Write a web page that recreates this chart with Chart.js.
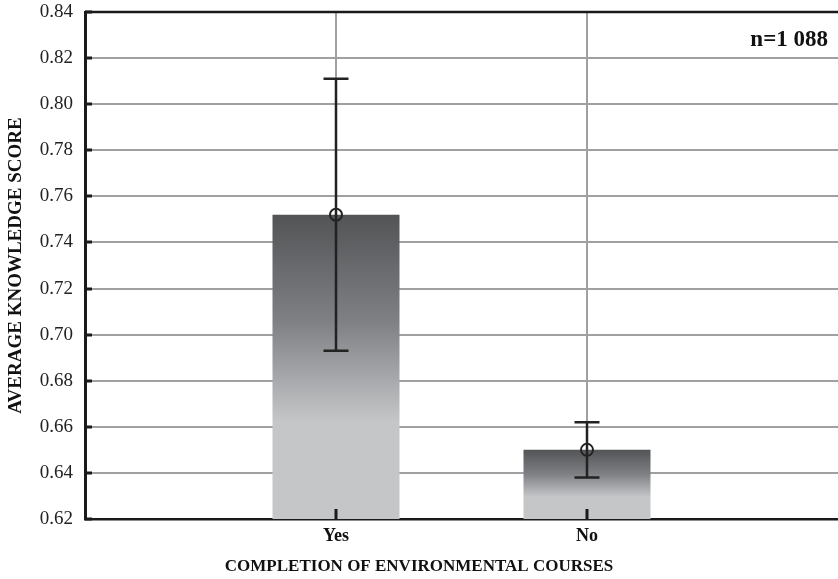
<!DOCTYPE html>
<html>
<head>
<meta charset="utf-8">
<script src="https://cdn.jsdelivr.net/npm/chart.js@4"></script>
<style>
  html, body { margin: 0; padding: 0; background: #fff; overflow: hidden; }
  #wrap { width: 838px; height: 579px; }
</style>
</head>
<body>
<div id="wrap"><canvas id="scoreChart"></canvas></div>
<script>
// categories (empty slots at both ends keep the bars at 1/3 and 2/3 of the width)
const categories = ['', 'Yes', 'No', ''];
// mean knowledge score per group
const meanScore = [null, 0.752, 0.650, null];
// confidence interval bounds
const errLow = [null, 0.693, 0.638, null];
const errHigh = [null, 0.811, 0.662, null];
// y axis range
const yMin = 0.62;
const yMax = 0.84;
const yStep = 0.02;
const sampleLabel = 'n=1 088';

const serif = '"Liberation Serif", "Times New Roman", serif';

// bar fill: dark at the top fading to light grey, then flat to the base
function barGradient(context) {
    const chart = context.chart;
    const { ctx, chartArea, scales } = chart;
    if (!chartArea || context.raw == null) return '#c5c6c8';
    const top = scales.y.getPixelForValue(context.raw);
    const bottom = scales.y.getPixelForValue(scales.y.min);
    const g = ctx.createLinearGradient(0, top, 0, bottom);
    g.addColorStop(0, '#535456');
    g.addColorStop(0.35, '#7f8084');
    g.addColorStop(0.68, '#c5c6c8');
    g.addColorStop(1, '#c5c6c8');
    return g;
}

// error bars, inner tick marks, top border and sample size
const extras = {
    id: 'extras',
    afterDatasetsDraw(chart) {
        const { ctx, chartArea, scales } = chart;
        const x = scales.x, y = scales.y;
        ctx.save();

        // inward tick marks
        ctx.strokeStyle = '#1a1a1a';
        ctx.lineWidth = 3;
        y.ticks.forEach(t => {
            const py = Math.round(y.getPixelForValue(t.value));
            ctx.beginPath();
            ctx.moveTo(chartArea.left, py);
            ctx.lineTo(chartArea.left + 7, py);
            ctx.stroke();
        });
        categories.forEach((c, i) => {
            if (!c) return;
            const px = Math.round(x.getPixelForValue(i));
            ctx.beginPath();
            ctx.moveTo(px, chartArea.bottom);
            ctx.lineTo(px, chartArea.bottom - 10);
            ctx.stroke();
        });

        // error bars
        ctx.strokeStyle = '#222';
        ctx.lineWidth = 2.5;
        const cap = 12.5;
        errLow.forEach((lo, i) => {
            if (lo == null) return;
            const px = Math.round(x.getPixelForValue(i));
            const pLo = y.getPixelForValue(lo);
            const pHi = y.getPixelForValue(errHigh[i]);
            ctx.beginPath();
            ctx.moveTo(px, pHi);
            ctx.lineTo(px, pLo);
            ctx.moveTo(px - cap, pHi);
            ctx.lineTo(px + cap, pHi);
            ctx.moveTo(px - cap, pLo);
            ctx.lineTo(px + cap, pLo);
            ctx.stroke();
        });

        // top frame line
        ctx.strokeStyle = '#1a1a1a';
        ctx.lineWidth = 2.5;
        ctx.beginPath();
        ctx.moveTo(chartArea.left, chartArea.top);
        ctx.lineTo(chartArea.right, chartArea.top);
        ctx.stroke();

        // sample size
        ctx.fillStyle = '#111';
        ctx.font = 'bold 23px ' + serif;
        ctx.textAlign = 'right';
        ctx.textBaseline = 'middle';
        ctx.fillText(sampleLabel, chartArea.right - 10, chartArea.top + 28);
        ctx.restore();
    }
};

const chart = new Chart(document.getElementById('scoreChart'), {
    type: 'bar',
    data: {
        labels: categories,
        datasets: [
            {
                type: 'line',
                data: meanScore,
                showLine: false,
                pointStyle: 'circle',
                pointRadius: 6,
                pointBorderWidth: 2,
                pointBorderColor: '#222',
                pointBackgroundColor: 'rgba(0,0,0,0)',
                order: 1
            },
            {
                data: meanScore,
                backgroundColor: barGradient,
                borderWidth: 0,
                categoryPercentage: 1,
                barPercentage: 0.506,
                order: 2
            }
        ]
    },
    options: {
        responsive: true,
        maintainAspectRatio: false,
        animation: false,
        layout: { autoPadding: false, padding: { top: 12, right: 0, left: 0, bottom: 0 } },
        plugins: {
            legend: { display: false },
            tooltip: { enabled: false },
            // x axis caption, centred on the whole canvas
            title: {
                display: true,
                position: 'bottom',
                text: 'COMPLETION OF ENVIRONMENTAL COURSES',
                color: '#111',
                font: { family: serif, size: 17, weight: 'bold', lineHeight: 1.2 },
                padding: { top: 0, bottom: 2 }
            }
        },
        scales: {
            x: {
                type: 'category',
                offset: false,
                grid: {
                    offset: false,
                    drawTicks: false,
                    lineWidth: 2,
                    color: ctx => (categories[ctx.index] ? '#a0a0a0' : 'rgba(0,0,0,0)')
                },
                border: { color: '#1a1a1a', width: 2.5 },
                ticks: {
                    padding: 7,
                    color: '#111',
                    font: { family: serif, size: 18, weight: 'bold' },
                    autoSkip: false,
                    maxRotation: 0
                },
                afterFit: s => { s.height = 37.6; s.paddingLeft = 0; s.paddingRight = 0; }
            },
            y: {
                min: yMin,
                max: yMax,
                grid: {
                    drawTicks: false,
                    lineWidth: 2,
                    color: '#a0a0a0'
                },
                border: { color: '#1a1a1a', width: 3 },
                ticks: {
                    stepSize: yStep,
                    padding: 12,
                    color: '#222',
                    font: { family: serif, size: 19 },
                    callback: v => v.toFixed(2)
                },
                title: {
                    display: true,
                    text: 'AVERAGE KNOWLEDGE SCORE',
                    color: '#111',
                    font: { family: serif, size: 19, weight: 'bold' },
                    padding: { top: 5, bottom: 0 }
                },
                afterFit: s => { s.width = 85; s.paddingTop = 0; s.paddingBottom = 0; }
            }
        }
    },
    plugins: [extras]
});
</script>
</body>
</html>
